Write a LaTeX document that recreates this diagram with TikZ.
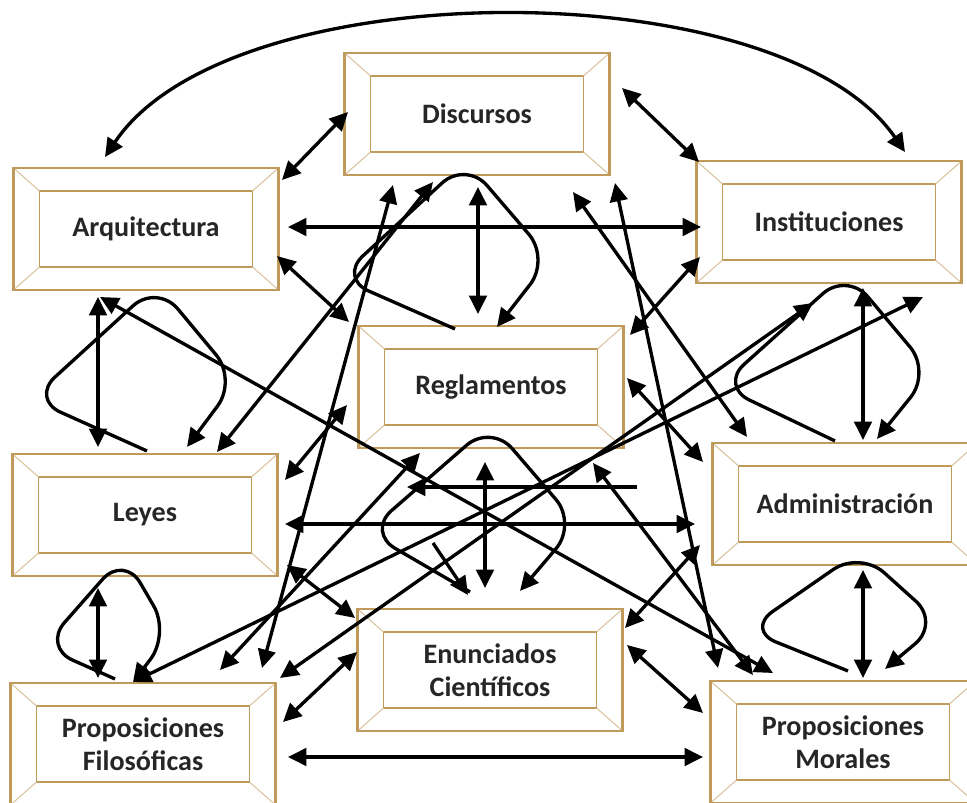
\documentclass[tikz,border=0pt]{standalone}
\usepackage{fontspec}
\setmainfont{Carlito}
\usepackage{tikz}
\usetikzlibrary{arrows.meta, calc}
\definecolor{boxedge}{HTML}{BF9A5A}
\definecolor{boxbevel}{HTML}{D9C39D}
\definecolor{boxtext}{HTML}{262626}

\tikzset{
  framebox/.style={draw=boxedge, line width=1.2pt, minimum width=5.3cm, minimum height=2.44cm,
    inner sep=0pt, align=center, text=boxtext,
    font=\bfseries\fontsize{16}{18.5}\selectfont,
    path picture={
      \draw[boxedge, line width=1pt]
        ([shift={(0.52cm,-0.46cm)}]path picture bounding box.north west) rectangle
        ([shift={(-0.52cm,0.46cm)}]path picture bounding box.south east);
      \draw[boxbevel, line width=0.6pt]
        (path picture bounding box.north west) -- ++(0.52cm,-0.46cm)
        (path picture bounding box.north east) -- ++(-0.52cm,-0.46cm)
        (path picture bounding box.south west) -- ++(0.52cm,0.46cm)
        (path picture bounding box.south east) -- ++(-0.52cm,0.46cm);
    }},
  link/.style={line width=1.9pt, {Triangle[length=10.5pt,width=10pt]}-{Triangle[length=10.5pt,width=10pt]}},
  oneway/.style={line width=1.9pt, -{Triangle[length=10.5pt,width=10pt]}},
  selfloop/.style={oneway, rounded corners=0.65cm}
}

\begin{document}
\begin{tikzpicture}[x=0.02cm, y=-0.02cm]
        \useasboundingbox (0,0) rectangle (967,803);
        \clip (0,0) rectangle (967,803);

        % boxes
        \node[framebox] (disc) at (477,114) {Discursos};
        \node[framebox] (arq) at (146,229) {Arquitectura};
        \node[framebox] (inst) at (829,222) {Instituciones};
        \node[framebox] (regl) at (491,387) {Reglamentos};
        \node[framebox] (leyes) at (145,515) {Leyes};
        \node[framebox] (admin) at (845,504) {Administración};
        \node[framebox] (enun) at (490,670) {Enunciados\\Científicos};
        \node[framebox] (filo) at (143,744) {Proposiciones\\Filosóficas};
        \node[framebox] (moral) at (843,742) {Proposiciones\\Morales};

        % links
        \draw[link] ($(arq)+(-41,-72)$) .. controls +(125,-187) and +(-125,-182) .. ($(inst)+(76,-70)$);
        \draw[link] ($(arq)+(136,-49)$) -- ($(disc)+(-129,-2)$);
        \draw[link] ($(disc)+(145,-26)$) -- ($(inst)+(-130,-60)$);
        \draw[link] ($(arq)+(142,-2)$) -- ($(inst)+(-128,5)$);
        \draw[link] ($(arq)+(131,27)$) -- ($(regl)+(-142,-65)$);
        \draw[link] ($(disc)+(1,73)$) -- ($(regl)+(-13,-73)$);
        \draw[link] ($(arq)+(-48,68)$) -- ($(leyes)+(-47,-68)$);
        \draw[link] ($(arq)+(-46,68)$) -- ($(moral)+(-70,-69)$);
        \draw[link] ($(disc)+(-84,71)$) -- ($(filo)+(119,-76)$);
        \draw[link] ($(disc)+(-44,68)$) -- ($(leyes)+(72,-63)$);
        \draw[link] ($(disc)+(96,78)$) -- ($(admin)+(-98,-67)$);
        \draw[link] ($(disc)+(138,69)$) -- ($(moral)+(-125,-74)$);
        \draw[link] ($(inst)+(-129,35)$) -- ($(regl)+(139,-52)$);
        \draw[link] ($(inst)+(34,66)$) -- ($(admin)+(18,-64)$);
        \draw[link] ($(inst)+(94,75)$) -- ($(filo)+(-10,-62)$);
        \draw[link] ($(inst)+(-16,81)$) -- ($(filo)+(137,-66)$);
        \draw[link] ($(regl)+(136,-9)$) -- ($(admin)+(-142,-42)$);
        \draw[link] ($(regl)+(-144,18)$) -- ($(leyes)+(140,-35)$);
        \draw[link] ($(regl)+(-71,66)$) -- ($(filo)+(77,-74)$);
        \draw[link] ($(regl)+(102,76)$) -- ($(moral)+(-90,-67)$);
        \draw[link] ($(regl)+(-6,75)$) -- ($(enun)+(-5,-82)$);
        \draw[link] ($(leyes)+(140,9)$) -- ($(admin)+(-150,20)$);
        \draw[link] ($(leyes)+(142,50)$) -- ($(enun)+(-135,-52)$);
        \draw[link] ($(leyes)+(-47,73)$) -- ($(filo)+(-45,-66)$);
        \draw[link] ($(admin)+(18,66)$) -- ($(moral)+(20,-64)$);
        \draw[link] ($(enun)+(-133,-18)$) -- ($(filo)+(140,-22)$);
        \draw[link] ($(enun)+(135,-42)$) -- ($(admin)+(-145,41)$);
        \draw[link] ($(enun)+(137,-25)$) -- ($(moral)+(-140,-29)$);
        \draw[link] ($(filo)+(145,13)$) -- ($(moral)+(-140,15)$);

        % loops
        \draw[selfloop] ($(regl.north)+(-36,4)$) -- ($(regl.north)+(-152,-47)$) -- ($(regl.north)+(-25,-164)$) -- ($(regl.north)+(59,-66)$) -- ($(regl.north)+(6,2)$);
        \draw[selfloop] ($(leyes.north)+(2,-2)$) -- ($(leyes.north)+(-114,-54)$) -- ($(leyes.north)+(12,-169)$) -- ($(leyes.north)+(92,-73)$) -- ($(leyes.north)+(42,-6)$);
        \draw[selfloop] ($(admin.north)+(-10,-1)$) -- ($(admin.north)+(-125,-56)$) -- ($(admin.north)+(2,-170)$) -- ($(admin.north)+(86,-70)$) -- ($(admin.north)+(32,-3)$);
        \draw[selfloop] ($(filo.north)+(-28,-3)$) -- ($(filo.north)+(-100,-35)$) -- ($(filo.north)+(-19,-127)$) -- ($(filo.north)+(27,-48)$) -- ($(filo.north)+(-10,0)$);
        \draw[selfloop] ($(moral.north)+(5,-9)$) -- ($(moral.north)+(-97,-50)$) -- ($(moral.north)+(17,-129)$) -- ($(moral.north)+(97,-57)$) -- ($(moral.north)+(42,-11)$);
        \draw[selfloop] ($(enun.north)+(-20,-16)$) -- ($(enun.north)+(-123,-76)$) -- ($(enun.north)+(1,-184)$) -- ($(enun.north)+(87,-84)$) -- ($(enun.north)+(30,-17)$);

        % loose strokes
        \coordinate (hstart) at (637,487);
        \coordinate (hend) at (407,487);
        \coordinate (sstart) at (433,543);
        \coordinate (send) at (468,595);
        \draw[oneway] (hstart) -- (hend);
        \draw[oneway] (sstart) -- (send);
    \end{tikzpicture}
\end{document}
